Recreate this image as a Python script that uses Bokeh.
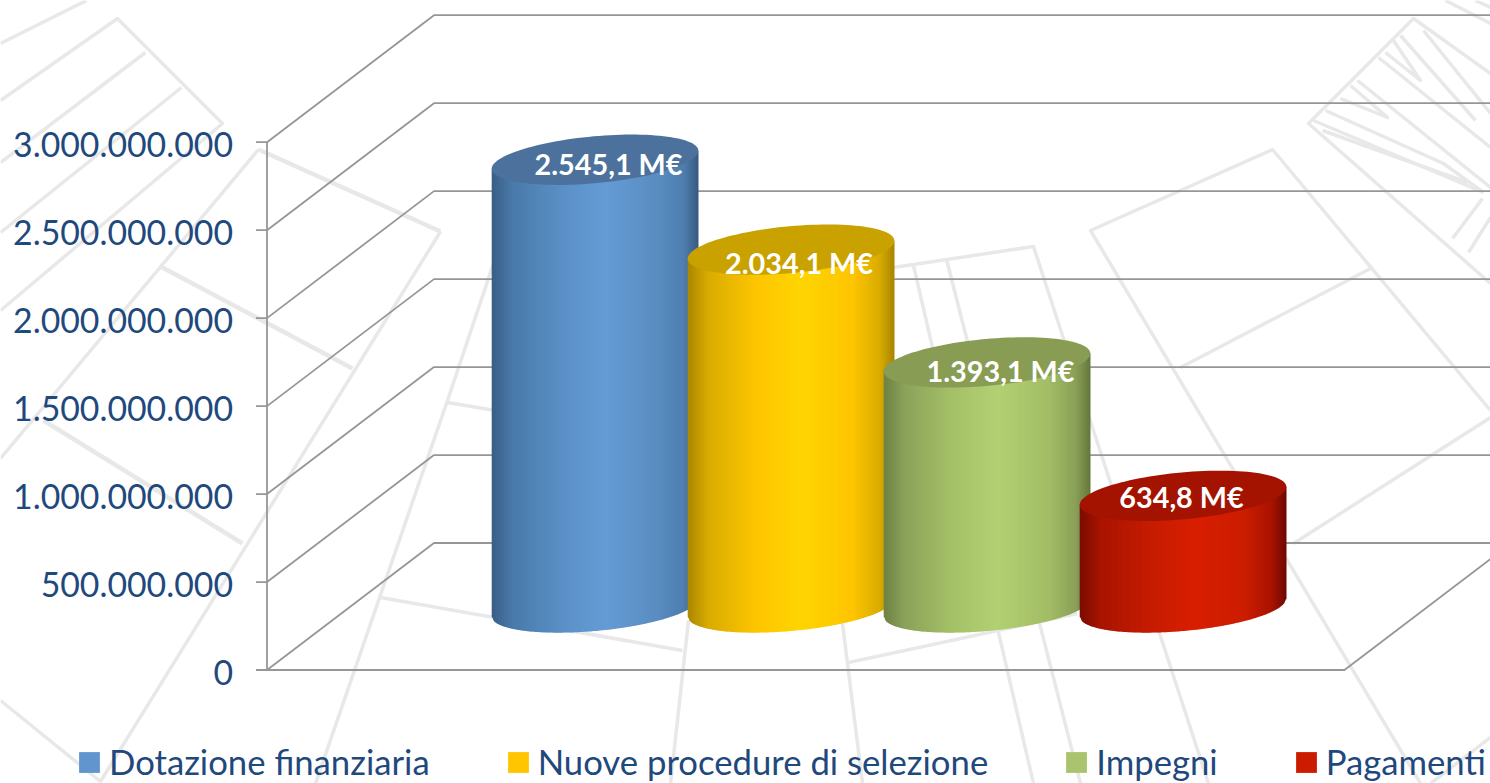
import numpy as np
from bokeh.embed import file_html
from bokeh.resources import INLINE
from bokeh.plotting import figure
from bokeh.core.properties import value
from bokeh.models import FixedTicker, Legend, LegendItem, LinearAxis, Range1d

# ---- data
categories = ["Dotazione finanziaria", "Nuove procedure di selezione", "Impegni", "Pagamenti"]
amounts = [2545.1e6, 2034.1e6, 1393.1e6, 634.8e6]
bar_labels = ["2.545,1 M€", "2.034,1 M€", "1.393,1 M€", "634,8 M€"]
tick_values = [0, 500e6, 1000e6, 1500e6, 2000e6, 2500e6, 3000e6]
tick_labels = ["0", "500.000.000", "1.000.000.000", "1.500.000.000", "2.000.000.000", "2.500.000.000", "3.000.000.000"]

# ---- styling
INK = "#1F497D"
FONT = "Lato"
legend_colors = ["#6195CE", "#FFC600", "#A9C46D", "#CC1C00"]
top_colors = ["#4C719D", "#C9A200", "#889C53", "#A31300"]
side_stops = [0, .1, .33, .55, .8, .93, 1]
side_colors = [
    ["#3A5E85", "#4A7AAB", "#5A90C6", "#659CD6", "#5A8DC1", "#4E7FB0", "#385A80"],
    ["#AB8700", "#D9AC00", "#FEC600", "#FFD500", "#FEC500", "#D9AC00", "#A88500"],
    ["#6D8243", "#8BA25A", "#A5C168", "#B3D173", "#A2BD66", "#8AA058", "#65783C"],
    ["#7A0D00", "#A91400", "#C41C00", "#D91F00", "#CC1D00", "#A81300", "#6F0A00"],
]
bar_centers = [594.5, 790.5, 986.5, 1182.5]
label_x = [608, 798.5, 1000, 1181]
label_lift_px = [-4.5, -13.5, -9, -1]  # label offset below the top ellipse's centre

W, H = 1490, 783
X0, Y0 = 0, 0
PX0 = 669.5                         # page y of value 0
PER_PX = 3e9 / 527.8                # value per page pixel
LABEL_DROP = 2.5                    # tick labels sit a little below their ticks
GRID = "#969696"
GRID_W = 1.8


def v(y_px):
    return (PX0 - np.asarray(y_px, dtype=float)) * PER_PX


y_lo, y_hi = float(v(Y0 + H)), float(v(Y0))
p = figure(width=W, height=H, output_backend="svg", toolbar_location=None,
           x_range=Range1d(X0, X0 + W), y_range=Range1d(y_lo, y_hi),
           x_axis_location=None, y_axis_location=None, min_border=0,
           background_fill_color="white", border_fill_color="white")
p.extra_y_ranges = {"labels": Range1d(y_lo + LABEL_DROP * PER_PX, y_hi + LABEL_DROP * PER_PX)}
p.outline_line_color = None
p.grid.visible = False

# ---- pale watermark behind the chart (page pixels)
thin = [
    [(0, 43), (86, 0)],
    [(0, 100), (117, 18), (222, 123), (0, 310)],
    [(145, 52), (0, 162)],
    [(181, 87), (0, 232)],
    [(0, 458), (258, 149)],
    [(440, 231), (100, 781), (0, 700)],
    [(493, 263), (447, 400), (315, 783)],
    [(447, 402), (495, 410)],
    [(380, 597), (682, 650)],
    [(688, 620), (670, 783)],
    [(842, 623), (862, 783)],
    [(848, 662), (1077, 613)],
    [(893, 267), (1033, 246), (1208, 783)],
    [(913, 265), (1033, 783)],
    [(946, 259), (1080, 783)],
    [(1490, 410), (1272, 149), (1090, 230), (1420, 783)],
    [(1180, 367), (1372, 267)],
    [(1293, 543), (1490, 417)],
    [(1430, 783), (1490, 737)],
    [(1490, 73), (1413, 18), (1308, 123), (1490, 283)],
    [(1313, 120), (1483, 192)],
    [(1322, 130), (1467, 182)],
    [(1325, 110), (1443, 163), (1483, 192)],
    [(1340, 98), (1387, 117), (1350, 85)],
    [(1357, 80), (1490, 187)],
    [(1378, 57), (1490, 147)],
    [(1385, 52), (1420, 80), (1393, 40)],
    [(1400, 35), (1475, 120)],
    [(1423, 30), (1490, 113)],
    [(1482, 198), (1452, 238)],
    [(1490, 217), (1468, 252)],
    [(1445, 0), (1490, 23)],
    [(1475, 0), (1490, 7)],
]
thick = [
    [(258, 149), (440, 231)],
    [(160, 266), (352, 368)],
    [(43, 420), (242, 543)],
]
for lines, lw in ((thin, 3.5), (thick, 4.5)):
    p.multi_line([[a for a, _ in l] for l in lines],
                 [[float(v(b)) for _, b in l] for l in lines],
                 line_color="#E8E8E8", line_width=lw, line_join="round")

# ---- 3D box: back wall and side wall grid lines, floor, axis line and ticks
DX, DY = 167, 127
AX_X = 266.5
TICK = 11
grid_x, grid_y = [], []
for t in tick_values:
    back = t + DY * PER_PX
    grid_x.append([AX_X - TICK, AX_X, AX_X + DX, X0 + W + 2])
    grid_y.append([t, t, back, back])
p.multi_line(grid_x, grid_y, line_color=GRID, line_width=GRID_W)
p.line([AX_X, 1344, 1344 + DX], [0, 0, DY * PER_PX], line_color=GRID, line_width=GRID_W)
p.line([AX_X, AX_X], [min(tick_values), max(tick_values)], line_color=GRID, line_width=GRID_W)

label_axis = LinearAxis(fixed_location=AX_X, y_range_name="labels",
                        ticker=FixedTicker(ticks=tick_values),
                        major_label_overrides=dict(zip(tick_values, tick_labels)),
                        major_tick_out=TICK, major_tick_in=0, minor_tick_line_color=None,
                        major_tick_line_color=None, axis_line_color=None,
                        major_label_text_color=INK, major_label_text_font=FONT,
                        major_label_text_font_size="33.8px", major_label_standoff=23)
p.add_layout(label_axis, "left")

# ---- cylinders (tilted ellipses on a common floor line)
A, K, B = 103.3, 9.0, 23.5          # half width, tilt, half depth (px)
BASE = 607.0                        # page y of the cylinder base centre
STRIP = 2.0


def hex_rgb(h):
    return [int(h[i:i + 2], 16) for i in (1, 3, 5)]


for i, amount in enumerate(amounts):
    cx = bar_centers[i]
    base_v = float(v(BASE))
    top_v = base_v + amount
    edges = np.arange(-A, A, STRIP)
    stops = np.array([hex_rgb(c) for c in side_colors[i]], dtype=float)
    xs, ys, cols = [], [], []
    for e in edges:
        e2 = min(e + STRIP + .6, A)
        u1, u2 = e / A, e2 / A
        low1 = -K * u1 + B * np.sqrt(max(1 - u1 * u1, 0))
        low2 = -K * u2 + B * np.sqrt(max(1 - u2 * u2, 0))
        xs.append([cx + e, cx + e2, cx + e2, cx + e])
        ys.append([top_v + K * u1 * PER_PX, top_v + K * u2 * PER_PX,
                   base_v - low2 * PER_PX, base_v - low1 * PER_PX])
        f = (e + STRIP / 2 + A) / (2 * A)
        rgb = [int(np.interp(f, side_stops, stops[:, c])) for c in range(3)]
        cols.append("#%02X%02X%02X" % tuple(rgb))
    p.patches(xs, ys, fill_color=cols, line_color=None)
    t = np.linspace(0, 2 * np.pi, 120)
    p.patch(cx + A * np.cos(t),
            top_v + (K * np.cos(t) - B * np.sin(t)) * PER_PX,
            fill_color=top_colors[i], line_color=None)

# ---- value labels
p.text(label_x, [a + float(v(BASE)) + lift * PER_PX for a, lift in zip(amounts, label_lift_px)],
       text=bar_labels, text_color="white", text_font=value(FONT), text_font_style="bold",
       text_font_size="28.8px", text_align="center", text_baseline="middle")

# ---- legend
items = []
for name, color in zip(categories, legend_colors):
    r = p.quad(left=[np.nan], right=[np.nan], top=[np.nan], bottom=[np.nan],
               fill_color=color, line_color=None)
    items.append(LegendItem(label=name, renderers=[r]))
legend = Legend(items=items, orientation="horizontal", location=(76, 1),
                glyph_width=26, glyph_height=26, label_standoff=7, spacing=75,
                padding=0, margin=0, border_line_color=None, background_fill_alpha=0,
                label_text_color=INK, label_text_font=FONT, label_text_font_size="34.7px",
                label_height=26)
p.add_layout(legend, "center")

open("out.html", "w").write(file_html(p, INLINE))
